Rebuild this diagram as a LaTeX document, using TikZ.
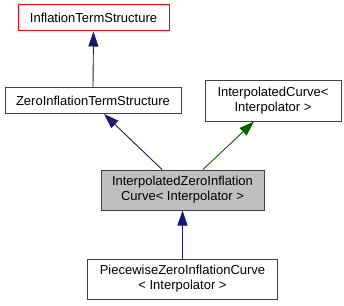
\documentclass[tikz,border=0pt]{standalone}
\usepackage{fontspec}
\setmainfont{Liberation Sans}
\usetikzlibrary{arrows.meta,positioning}
\definecolor{classedge}{HTML}{404040}
\definecolor{classfocus}{HTML}{BFBFBF}
\definecolor{classtrunc}{HTML}{FF0000}
\definecolor{inheritblue}{HTML}{191970}
\definecolor{inheritgreen}{HTML}{006400}
\tikzset{
  classbox/.style={draw=classedge, fill=white, line width=1pt,
    font=\fontsize{13}{15}\selectfont, align=center, inner sep=0pt},
  focusbox/.style={classbox, fill=classfocus},
  truncbox/.style={classbox, draw=classtrunc},
  publicflow/.style={{Triangle[length=15pt,width=10pt]}-, draw=inheritblue, line width=.9pt},
  templflow/.style={{Triangle[length=15pt,width=10pt]}-, draw=inheritgreen, line width=.9pt}
}

\begin{document}
\begin{tikzpicture}[x=1pt,y=-1pt]
  \useasboundingbox (0,0) rectangle (344,305);
  % class boxes, top to bottom
  \node[truncbox, minimum width=151pt, minimum height=26pt] (infl) at (93.5,18)
    {InflationTermStructure};
  \node[classbox, minimum width=176pt, minimum height=26pt] (zero) at (93,100.5)
    {ZeroInflationTermStructure};
  \node[classbox, minimum width=136pt, minimum height=41pt] (curve) at (273,100.5)
    {InterpolatedCurve<\\Interpolator >};
  \node[focusbox, minimum width=163pt, minimum height=40pt] (izic) at (182.5,190)
    {InterpolatedZeroInflation\\Curve< Interpolator >};
  \node[classbox, minimum width=190pt, minimum height=40pt] (piece) at (182.5,279)
    {PiecewiseZeroInflationCurve\\< Interpolator >};

  % inheritance edges, arrow tip at the base class
  \draw[publicflow] (infl.south) -- (zero.north);
  \draw[publicflow] ([xshift=11pt]zero.south) -- ([xshift=-20.5pt]izic.north);
  \draw[templflow] ([xshift=-19pt]curve.south) -- ([xshift=20.5pt]izic.north);
  \draw[publicflow] (izic.south) -- (piece.north);
\end{tikzpicture}
\end{document}
